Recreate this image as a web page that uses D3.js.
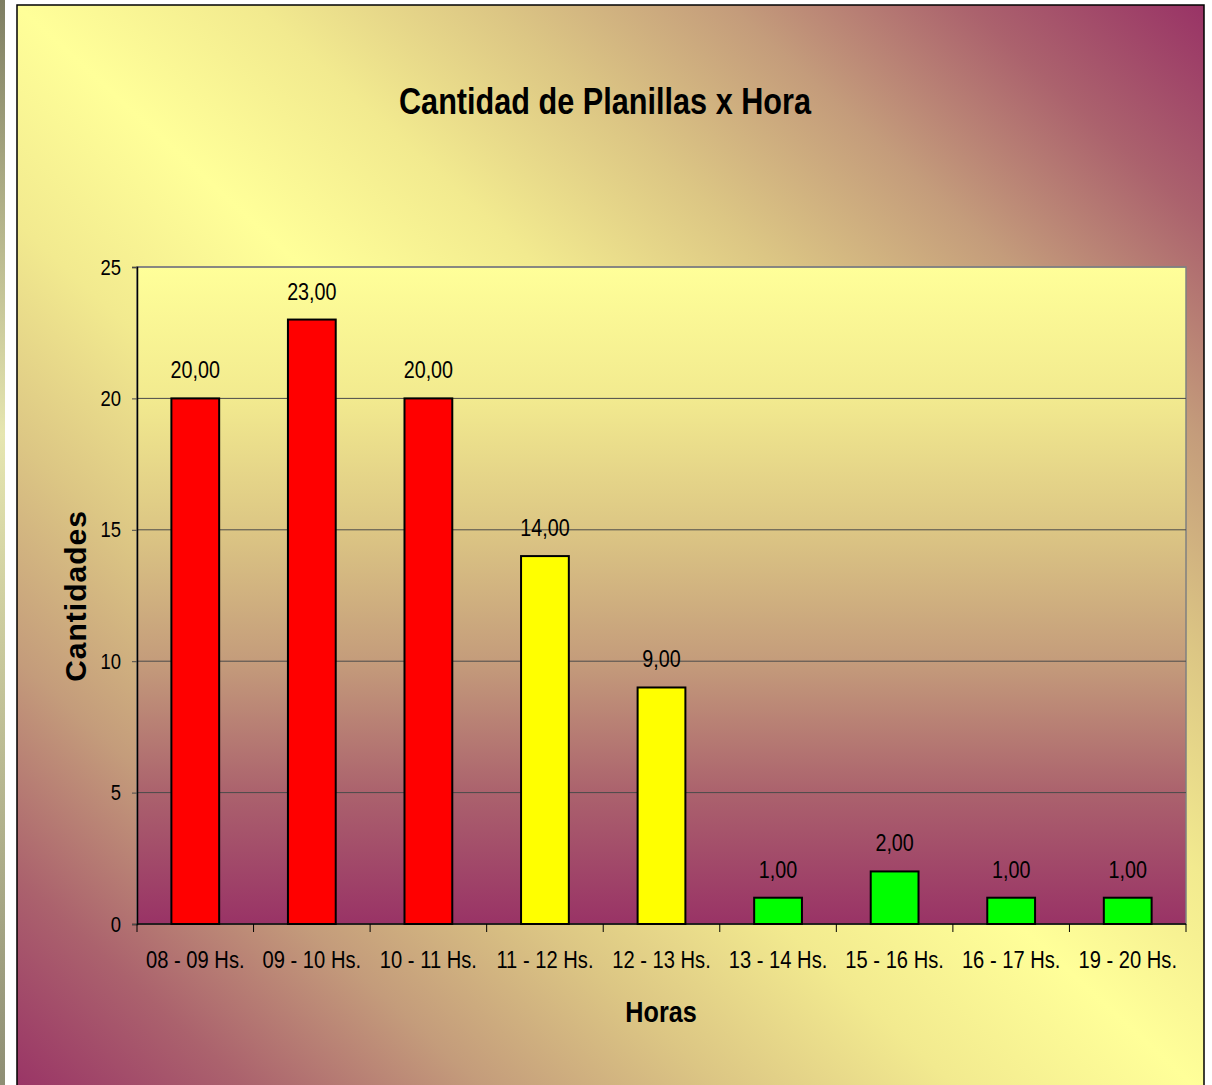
<!DOCTYPE html>
<html>
<head>
<meta charset="utf-8">
<script src="https://cdn.jsdelivr.net/npm/d3@7"></script>
<style>
  body { margin: 0; background: #fff; }
  svg text { font-family: "Liberation Sans", Arial, sans-serif; }
</style>
</head>
<body>
<div id="chart"></div>
<script>
var horas = ['08 - 09 Hs.', '09 - 10 Hs.', '10 - 11 Hs.', '11 - 12 Hs.', '12 - 13 Hs.',
  '13 - 14 Hs.', '15 - 16 Hs.', '16 - 17 Hs.', '19 - 20 Hs.'];
var cantidades = [20, 23, 20, 14, 9, 1, 2, 1, 1];
var colores = ['#ff0000', '#ff0000', '#ff0000', '#ffff00', '#ffff00',
  '#00ff00', '#00ff00', '#00ff00', '#00ff00'];
var yTicks = [0, 5, 10, 15, 20, 25];

var width = 1212, height = 1085;
var plot = { left: 137, right: 1186, top: 267, bottom: 924 };
var narrow = 0.84; // el texto horizontal del original es angosto

var svg = d3.select('#chart').append('svg')
  .attr('width', width)
  .attr('height', height);

var defs = svg.append('defs');

// paleta amarillo -> purpura (no lineal, como el original)
var ramp = [
  [0, '#ffff99'], [0.2, '#f2ea8f'], [0.4, '#dcc684'],
  [0.6, '#c49c7b'], [0.8, '#ab626d'], [1, '#993366']
];

// fondo del area del grafico (diagonal purpura - amarillo - purpura)
var bgGrad = defs.append('linearGradient')
  .attr('id', 'bgGrad')
  .attr('x1', 1).attr('y1', 0)
  .attr('x2', 0).attr('y2', 1);
ramp.slice().reverse().forEach(function(s) {
  bgGrad.append('stop').attr('offset', (1 - s[0]) / 2).attr('stop-color', s[1]);
});
ramp.slice(1).forEach(function(s) {
  bgGrad.append('stop').attr('offset', 0.5 + s[0] / 2).attr('stop-color', s[1]);
});

// fondo del area de trazado (vertical)
var plotGrad = defs.append('linearGradient')
  .attr('id', 'plotGrad')
  .attr('x1', 0).attr('y1', 0)
  .attr('x2', 0).attr('y2', 1);
ramp.forEach(function(s) {
  plotGrad.append('stop').attr('offset', s[0]).attr('stop-color', s[1]);
});

// franja izquierda
var stripGrad = defs.append('linearGradient')
  .attr('id', 'stripGrad')
  .attr('x1', 0).attr('y1', 0)
  .attr('x2', 0).attr('y2', 1);
stripGrad.append('stop').attr('offset', 0).attr('stop-color', '#7e7e62');
stripGrad.append('stop').attr('offset', 0.4).attr('stop-color', '#e6e6b0');
stripGrad.append('stop').attr('offset', 1).attr('stop-color', '#8e8e74');

svg.append('rect')
  .attr('x', 0).attr('y', 0)
  .attr('width', 5).attr('height', height)
  .attr('fill', 'url(#stripGrad)');

svg.append('rect')
  .attr('x', 17).attr('y', 5)
  .attr('width', 1187).attr('height', 1090)
  .attr('fill', 'url(#bgGrad)')
  .attr('stroke', '#000')
  .attr('stroke-width', 1.5);

svg.append('rect')
  .attr('x', plot.left).attr('y', plot.top)
  .attr('width', plot.right - plot.left)
  .attr('height', plot.bottom - plot.top)
  .attr('fill', 'url(#plotGrad)')
  .attr('stroke', '#808080')
  .attr('stroke-width', 1.5);

/////////////
// escalas
/////////////
var x = d3.scaleBand()
  .domain(horas)
  .range([plot.left, plot.right])
  .paddingInner(0.59)
  .paddingOuter(0.295);

var xEdges = d3.scaleLinear()
  .domain([0, horas.length])
  .range([plot.left, plot.right]);

var y = d3.scaleLinear()
  .domain([0, 25])
  .range([plot.bottom, plot.top]);

// texto angosto: se escala en x alrededor del punto de anclaje
function label(parent, px, py, str, size, weight) {
  return parent.append('text')
    .attr('transform', 'translate(' + px + ',' + py + ') scale(' + narrow + ',1)')
    .attr('text-anchor', 'middle')
    .attr('font-size', size)
    .attr('font-weight', weight || 'normal')
    .attr('fill', '#000')
    .text(str);
}

// lineas de division
svg.append('g')
  .selectAll('line')
  .data(yTicks.filter(function(d) { return d > 0; }))
  .enter().append('line')
  .attr('x1', plot.left).attr('x2', plot.right)
  .attr('y1', function(d) { return y(d); })
  .attr('y2', function(d) { return y(d); })
  .attr('stroke', function(d) { return d === 25 ? '#808080' : '#4a4a4a'; })
  .attr('stroke-width', function(d) { return d === 25 ? 1.5 : 1; });

// eje Y
var yAxis = svg.append('g')
  .attr('transform', 'translate(' + plot.left + ',0)')
  .call(d3.axisLeft(y).tickValues(yTicks).tickSize(5).tickPadding(11).tickFormat(d3.format('d')));
yAxis.select('.domain').attr('stroke', '#000').attr('stroke-width', 1.5);
yAxis.selectAll('.tick line').attr('stroke', '#4a4a4a');
yAxis.selectAll('.tick text')
  .attr('font-size', 22)
  .attr('fill', '#000')
  .attr('x', -16 / narrow)
  .attr('transform', 'scale(' + narrow + ',1)')
  .style('font-family', '"Liberation Sans", Arial, sans-serif');

// barras
svg.append('g')
  .selectAll('rect')
  .data(cantidades)
  .enter().append('rect')
  .attr('x', function(d, i) { return x(horas[i]); })
  .attr('y', function(d) { return y(d); })
  .attr('width', x.bandwidth())
  .attr('height', function(d) { return y(0) - y(d); })
  .attr('fill', function(d, i) { return colores[i]; })
  .attr('stroke', '#000')
  .attr('stroke-width', 2);

// etiquetas de valores
var valores = svg.append('g');
cantidades.forEach(function(d, i) {
  label(valores, x(horas[i]) + x.bandwidth() / 2, y(d) - 20,
    d3.format('.2f')(d).replace('.', ','), 23.5);
});

// eje X
svg.append('line')
  .attr('x1', plot.left).attr('x2', plot.right)
  .attr('y1', plot.bottom).attr('y2', plot.bottom)
  .attr('stroke', '#000')
  .attr('stroke-width', 1.5);

svg.append('g')
  .selectAll('line')
  .data(d3.range(horas.length + 1))
  .enter().append('line')
  .attr('x1', function(d) { return xEdges(d); })
  .attr('x2', function(d) { return xEdges(d); })
  .attr('y1', plot.bottom)
  .attr('y2', plot.bottom + 8)
  .attr('stroke', '#000')
  .attr('stroke-width', 1);

var categorias = svg.append('g');
horas.forEach(function(h) {
  label(categorias, x(h) + x.bandwidth() / 2, 968, h, 24);
});

// titulos
label(svg, 605, 114, 'Cantidad de Planillas x Hora', 36.5, 'bold');
label(svg, 661, 1022, 'Horas', 30, 'bold');

svg.append('text')
  .attr('transform', 'translate(86,596) rotate(-90)')
  .attr('text-anchor', 'middle')
  .attr('font-size', 30)
  .attr('font-weight', 'bold')
  .style('letter-spacing', '1px')
  .text('Cantidades');
</script>
</body>
</html>
